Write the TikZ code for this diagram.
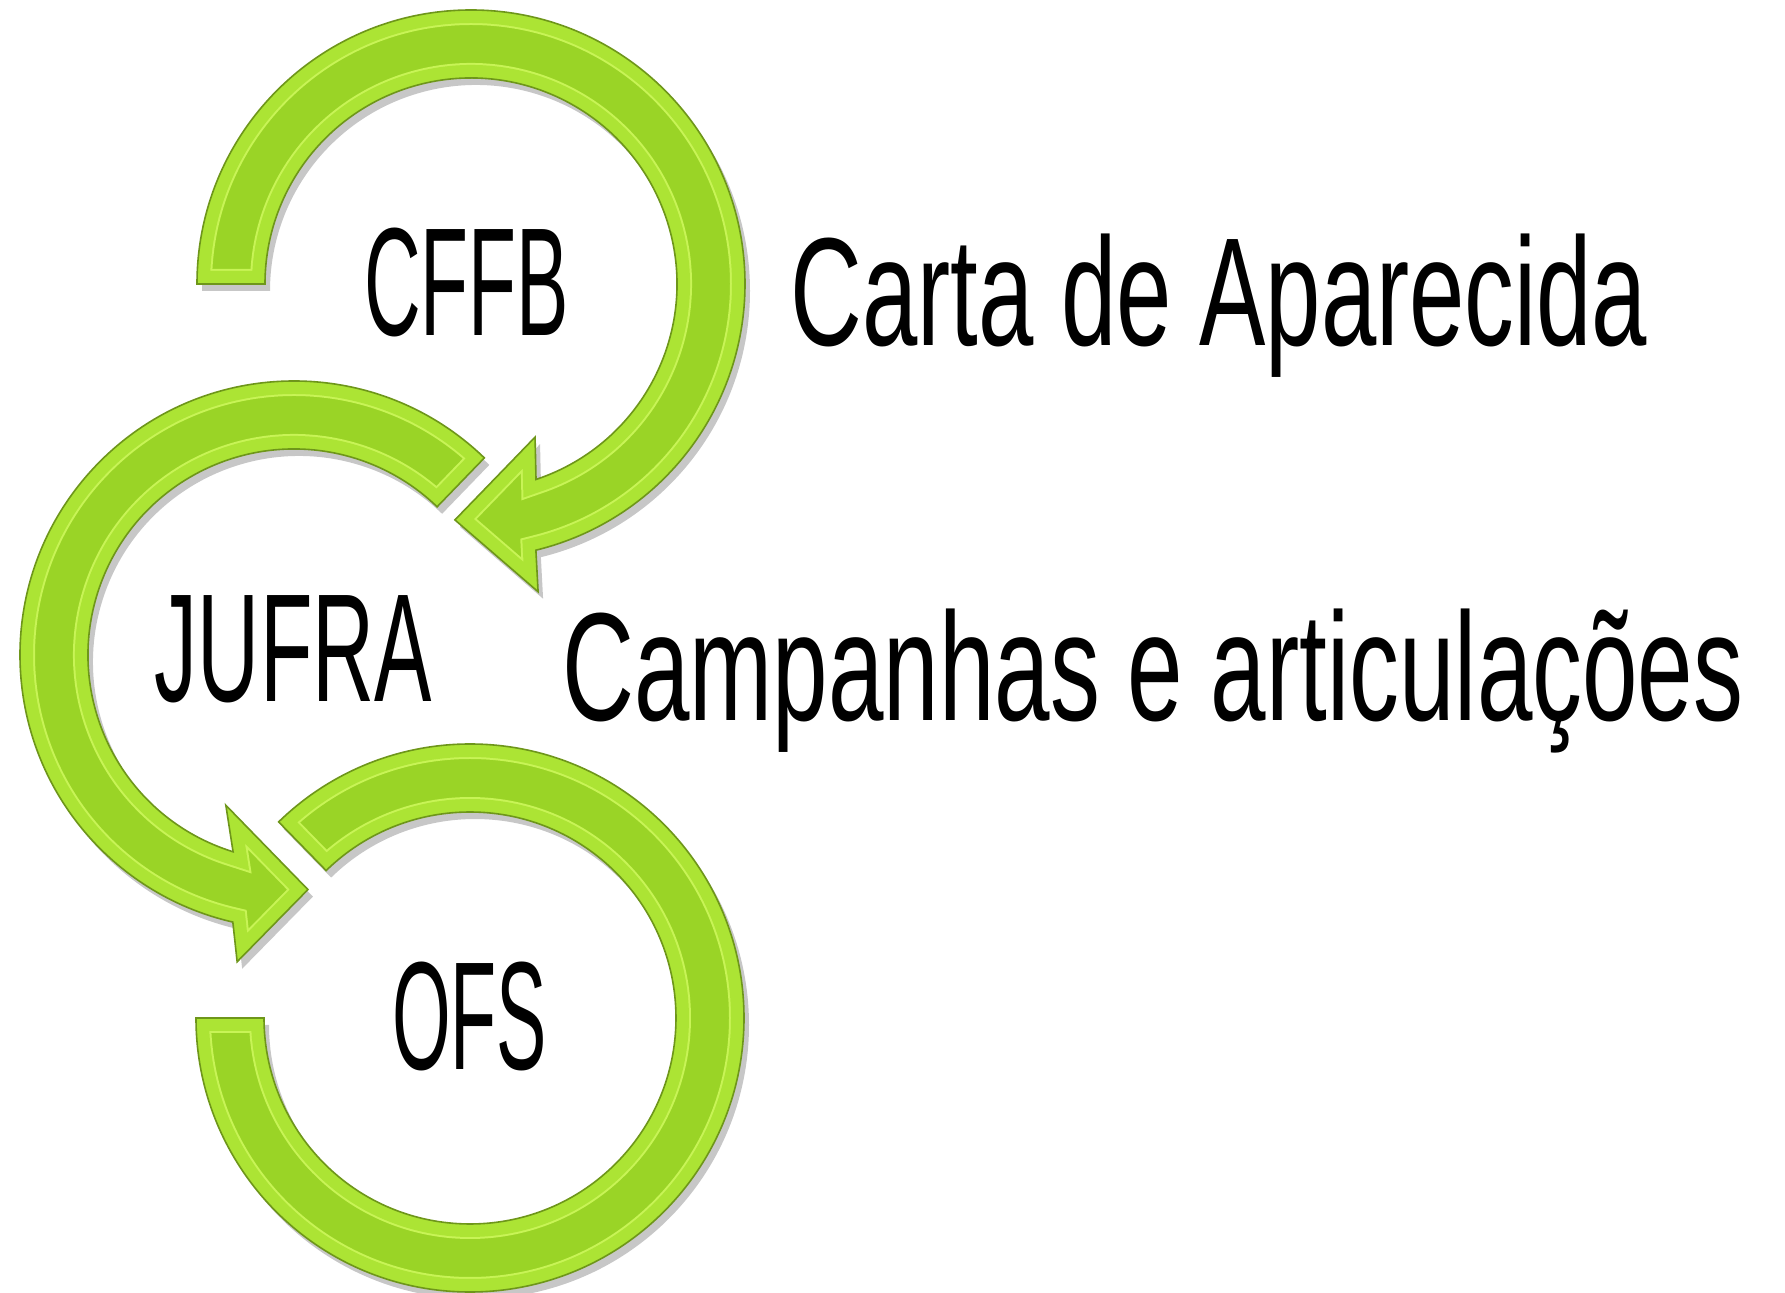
\documentclass[tikz,border=0pt]{standalone}
\usepackage{fontspec}
\setmainfont{Liberation Sans}
\usepackage{graphicx}
\definecolor{armfill}{RGB}{154,212,38}
\definecolor{armband}{RGB}{172,228,52}
\definecolor{armlight}{RGB}{200,244,86}
\definecolor{armedge}{RGB}{110,150,26}
\newcommand{\fitw}[2]{\resizebox{#1}{\height}{#2}}
\newcommand{\drawarm}[2]{%
  \begin{scope}[shift={(#1)}]
    \fill[black,opacity=0.22,shift={(5,-7)}] #2;
    \fill[armfill] #2;
    \begin{scope}
      \clip #2;
      \draw[armlight,line width=15pt] #2;
      \draw[armband,line width=13pt] #2;
    \end{scope}
    \draw[armedge,line width=0.8pt] #2;
  \end{scope}}
\tikzset{label/.style={inner sep=0pt,anchor=base,font=\fontsize{77}{80}\selectfont}}

\begin{document}
\begin{tikzpicture}[x=0.5pt,y=0.5pt]
    \fill[white] (0,0) rectangle (1785,1292);
    \useasboundingbox (0,0) rectangle (1785,1292);
    \coordinate (c1) at (471,1008);
    \coordinate (c2) at (294,637);
    \coordinate (c3) at (470,274);
    \drawarm{c3}{(180:206) -- (180:274) arc[start angle=180,end angle=494.3,radius=274]
      -- (494.3:206) arc[start angle=494.3,end angle=180,radius=206] -- cycle}
    \drawarm{c2}{(46:206) -- (46:274) arc[start angle=46,end angle=257.1,radius=274]
      -- (259.5:312) -- (273.4:235) -- (245.6:165) -- (252.8:206)
      arc[start angle=252.8,end angle=46,radius=206] -- cycle}
    \drawarm{c1}{(180:206) -- (180:274) arc[start angle=180,end angle=-76.3,radius=274]
      -- (-77.7:315) -- (-93.9:236.5) -- (-67.3:166) -- (-71.6:206)
      arc[start angle=-71.6,end angle=180,radius=206] -- cycle}
    \node[label] (cffb) at (466.5,956) {\fitw{102.5pt}{CFFB}};
    \node[label] (jufra) at (293.5,590) {\fitw{138.5pt}{JUFRA}};
    \node[label] (ofs) at (469.5,222) {\fitw{77.5pt}{OFS}};
    \node[label,anchor=base west] (carta) at (790,946) {\fitw{428.5pt}{Carta de Aparecida}};
    \node[label,anchor=base west] (campanhas) at (562,571) {\fitw{590.5pt}{Campanhas e articulações}};
\end{tikzpicture}
\end{document}
